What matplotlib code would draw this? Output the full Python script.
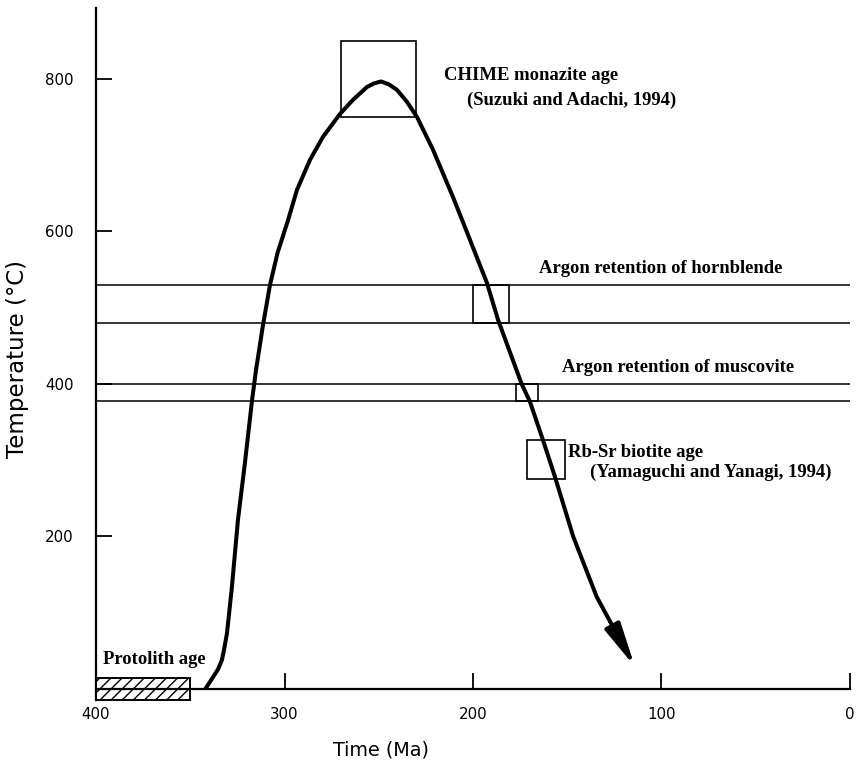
import matplotlib
matplotlib.use("Agg")
import matplotlib.pyplot as plt
from matplotlib.patches import Rectangle

# ---- data ----
curve_age = [342, 337.9, 335.3, 333.2, 331.9, 330.5, 327.9, 324.7, 321.0, 317.2, 315.1, 311.4,
             307.7, 303.7, 298.1, 293.4, 286.5, 279.6, 270.6, 263.7, 256.2, 252.5,
             248.8, 244.6, 240.3, 235.0, 229.7, 221.2, 210.6, 201.6, 192.6, 186.7,
             174.2, 169.8, 162.9, 156.5, 146.8, 134.4, 127.3]
curve_temp = [0, 15.7, 25.6, 38, 53.8, 73.4, 133.8, 221.6, 296.4, 379, 418.4, 477.4,
              529.8, 571.8, 615, 654.4, 693.8, 724, 754, 772.5, 789.5, 794.1,
              796.7, 792.8, 785.6, 769.8, 750, 707, 645, 589, 532.5, 484,
              400, 376.8, 326.6, 278, 199.7, 121, 88.6]
arrow_tip = (114.1, 29.2)

hornblende_band = (480, 530)
muscovite_band = (378, 400)

chime_box = (270, 230, 750, 850)        # age_old, age_young, t_low, t_high
hornblende_box = (200, 181, 480, 530)
muscovite_box = (177, 165.5, 378, 400)
rbsr_box = (171.3, 151.2, 275, 327)
protolith_box = (400, 350, -14, 14)

xticks = [400, 300, 200, 100, 0]
yticks = [200, 400, 600, 800]

# ---- figure ----
plt.rcParams["hatch.linewidth"] = 1.0
fig = plt.figure(figsize=(8.68, 7.69), dpi=100)
ax = fig.add_axes([96/868, 1-689/769, 754/868, 681/769])
ax.set_xlim(400, 0)
ax.set_ylim(0, 893)

for s in ("top", "right"):
    ax.spines[s].set_visible(False)
ax.spines["left"].set_linewidth(1.6)
ax.spines["bottom"].set_linewidth(1.6)
ax.spines["left"].set_bounds(-14, 893)
ax.spines["left"].set_clip_on(False)
ax.spines["bottom"].set_zorder(6)

ax.set_xticks(xticks)
ax.set_xticklabels([str(v) for v in xticks])
ax.set_yticks(yticks)
ax.set_yticklabels([str(v) for v in yticks])
ax.tick_params(axis="both", direction="in", length=11.5, width=1.3,
               labelsize=10.8, colors="black")
ax.tick_params(axis="y", pad=16)
ax.tick_params(axis="x", pad=13)
for lab in ax.get_xticklabels() + ax.get_yticklabels():
    lab.set_family("DejaVu Sans")

ax.set_xlabel("Time (Ma)", fontsize=13.8, family="DejaVu Sans")
ax.set_ylabel("Temperature (\u00b0C)", fontsize=16.5, family="DejaVu Sans")
ax.yaxis.label.set_va("center")
ax.xaxis.set_label_coords(0.378, -0.075)
ax.yaxis.set_label_coords(-0.1035, 0.4846)

# horizontal retention bands
for yv in hornblende_band + muscovite_band:
    ax.axhline(yv, color="black", lw=1.1, zorder=2)

def box(b):
    a0, a1, t0, t1 = b
    ax.add_patch(Rectangle((a1, t0), a0 - a1, t1 - t0, fill=False,
                           edgecolor="black", lw=1.2, zorder=3))

box(chime_box)
box(hornblende_box)
box(muscovite_box)
box(rbsr_box)

a0, a1, t0, t1 = protolith_box
ax.add_patch(Rectangle((a1, t0), a0 - a1, t1 - t0, facecolor="white",
                       edgecolor="black", hatch="///", lw=1.4, zorder=4,
                       clip_on=False))

# P-T-t curve
ax.plot(curve_age, curve_temp, color="black", lw=2.9, zorder=5,
        solid_capstyle="round", solid_joinstyle="round")
ax.annotate("", xy=arrow_tip, xytext=(curve_age[-1], curve_temp[-1]),
            arrowprops=dict(arrowstyle="-|>,head_length=2.6,head_width=0.5",
                            color="black", lw=2.9, shrinkA=0, shrinkB=0,
                            mutation_scale=10), zorder=6)

serif = "Liberation Serif"
fs = 13.4
kw = dict(fontsize=fs, family=serif, weight="bold", va="center")
ax.text(215.4, 805, "CHIME monazite age", ha="left", **kw)
ax.text(203.2, 772.5, "(Suzuki and Adachi, 1994)", ha="left", **kw)
ax.text(100.3, 552, "Argon retention of hornblende", ha="center", **kw)
ax.text(91.3, 422, "Argon retention of muscovite", ha="center", **kw)
ax.text(149.6, 309.5, "Rb-Sr biotite age", ha="left", **kw)
ax.text(137.9, 284.6, "(Yamaguchi and Yanagi, 1994)", ha="left", clip_on=False, **kw)
ax.text(396.3, 39.3, "Protolith age", ha="left", **kw)

fig.savefig("out.png", dpi=100)
